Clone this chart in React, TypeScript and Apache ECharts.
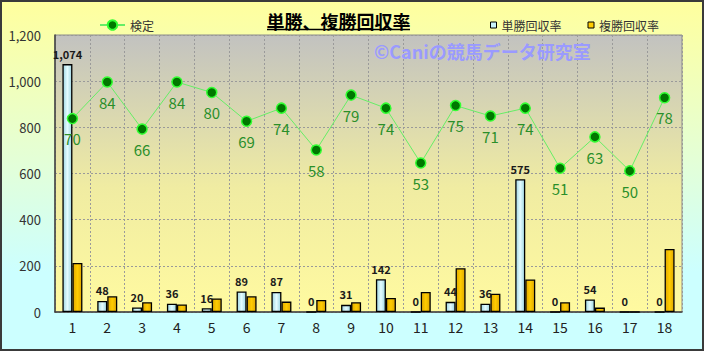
import React, { useEffect, useRef } from "react";
import * as echarts from "echarts";

const categories = ["1", "2", "3", "4", "5", "6", "7", "8", "9", "10", "11", "12", "13", "14", "15", "16", "17", "18"];
const tanshoValues = [1074, 48, 20, 36, 16, 89, 87, 0, 31, 142, 0, 44, 36, 575, 0, 54, 0, 0];
const fukushoValues = [212, 68, 42, 33, 59, 68, 45, 52, 42, 61, 87, 190, 79, 141, 42, 19, 0, 273];
const kenteiValues = [70, 84, 66, 84, 80, 69, 74, 58, 79, 74, 53, 75, 71, 74, 51, 63, 50, 78];

const titleText = "単勝、複勝回収率";
const watermarkText = "©Caniの競馬データ研究室";
const seriesNames = ["検定", "単勝回収率", "複勝回収率"];

const FONT = "'Noto Sans CJK JP', 'Noto Sans', sans-serif";

export default function App() {
  const ref = useRef<HTMLDivElement>(null);
  useEffect(() => {
    document.body.style.margin = "0";
    const chart = echarts.init(ref.current!, null, { renderer: "svg" });
    const fmt = (v: number) => Number(v).toLocaleString("en-US");
    const blueGrad = new echarts.graphic.LinearGradient(0, 0, 1, 0, [
      { offset: 0, color: "#9fd6e2" },
      { offset: 0.5, color: "#e4fcff" },
      { offset: 1, color: "#9fd6e2" },
    ]);
    const goldGrad = new echarts.graphic.LinearGradient(0, 0, 1, 0, [
      { offset: 0, color: "#e0a800" },
      { offset: 0.5, color: "#ffcc00" },
      { offset: 1, color: "#e0a800" },
    ]);
    const gridLine = { color: "#9a9a9a", type: [2, 2], width: 1 };
    chart.setOption({
      animation: false,
      textStyle: { fontFamily: FONT },
      grid: {
        left: 53,
        right: 20,
        top: 33,
        bottom: 37,
        show: true,
        borderColor: "#8a8a8a",
        borderWidth: 1,
        backgroundColor: new echarts.graphic.LinearGradient(0, 0, 0, 1, [
          { offset: 0, color: "#c2c2c0" },
          { offset: 0.55, color: "#f0eca2" },
          { offset: 1, color: "#fffaa0" },
        ]),
      },
      legend: [
        {
          left: 92,
          top: 12,
          data: [seriesNames[0]],
          itemWidth: 25,
          itemHeight: 12,
          textStyle: { fontSize: 12, color: "#333", fontFamily: FONT },
        },
        {
          left: 483,
          top: 12,
          data: [
            { name: seriesNames[1], icon: "rect", itemStyle: { color: "#c8f2fa", borderColor: "#000", borderWidth: 1 } },
            { name: seriesNames[2], icon: "rect", itemStyle: { color: "#ffcc00", borderColor: "#000", borderWidth: 1 } },
          ],
          itemWidth: 6,
          itemHeight: 6,
          itemGap: 26,
          textStyle: { fontSize: 12, color: "#333", fontFamily: FONT },
        },
      ],
      xAxis: {
        type: "category",
        data: categories,
        axisLine: { lineStyle: { color: "#404040", width: 1.5 } },
        axisTick: { show: false },
        axisLabel: { fontSize: 14, color: "#222", margin: 8 },
        splitLine: { show: true, lineStyle: gridLine },
      },
      yAxis: [
        {
          type: "value",
          min: 0,
          max: 1200,
          interval: 200,
          axisLine: { show: true, lineStyle: { color: "#404040", width: 1.5 } },
          axisTick: { show: false },
          axisLabel: { fontSize: 13, color: "#333", margin: 14, formatter: (v: number) => fmt(v) },
          splitLine: { show: true, lineStyle: gridLine },
        },
        {
          type: "value",
          min: -4,
          max: 102,
          show: false,
          splitLine: { show: false },
        },
      ],
      series: [
        {
          name: seriesNames[1],
          type: "bar",
          data: tanshoValues,
          barWidth: 10,
          barGap: "0%",
          itemStyle: { color: blueGrad, borderColor: "#000", borderWidth: 1.3 },
          label: {
            show: true,
            position: "top",
            distance: 5,
            fontSize: 11,
            fontWeight: "bold",
            color: "#1a1a1a",
            formatter: (p: any) => fmt(p.value),
          },
          z: 2,
        },
        {
          name: seriesNames[2],
          type: "bar",
          data: fukushoValues,
          barWidth: 10,
          barGap: "0%",
          itemStyle: { color: goldGrad, borderColor: "#000", borderWidth: 1.3 },
          z: 2,
        },
        {
          name: seriesNames[0],
          type: "line",
          yAxisIndex: 1,
          data: kenteiValues,
          symbol: "circle",
          symbolSize: 10,
          itemStyle: { color: "#007800", borderColor: "#33ff33", borderWidth: 1.5 },
          lineStyle: { color: "#66ee66", width: 1 },
          label: {
            show: true,
            position: "bottom",
            distance: 7,
            fontSize: 15,
            color: "#2a8f2a",
          },
          z: 5,
        },
      ],
      graphic: [
        {
          type: "text",
          left: 372,
          top: 40,
          z: 1,
          style: {
            text: watermarkText,
            fontSize: 18,
            fontWeight: "bold",
            fontFamily: FONT,
            fill: "#9a9aff",
          },
        },
        {
          type: "text",
          x: 336.5,
          y: 18.5,
          style: {
            text: titleText,
            fontSize: 18,
            fontWeight: "bold",
            fontFamily: FONT,
            fill: "#000",
            align: "center",
            verticalAlign: "middle",
          },
        },
        {
          type: "line",
          shape: { x1: 265, y1: 27.5, x2: 408, y2: 27.5 },
          style: { stroke: "#000", lineWidth: 1.5 },
        },
      ],
    });
    return () => chart.dispose();
  }, []);
  return (
    <div
      style={{
        width: 704,
        height: 351,
        boxSizing: "border-box",
        border: "2px solid #3a3a3a",
        background: "linear-gradient(to bottom, #ffff9e 0%, #e4ffd6 45%, #ccffff 78%, #ccffff 100%)",
      }}
    >
      <div ref={ref} style={{ width: 700, height: 347 }} />
    </div>
  );
}
